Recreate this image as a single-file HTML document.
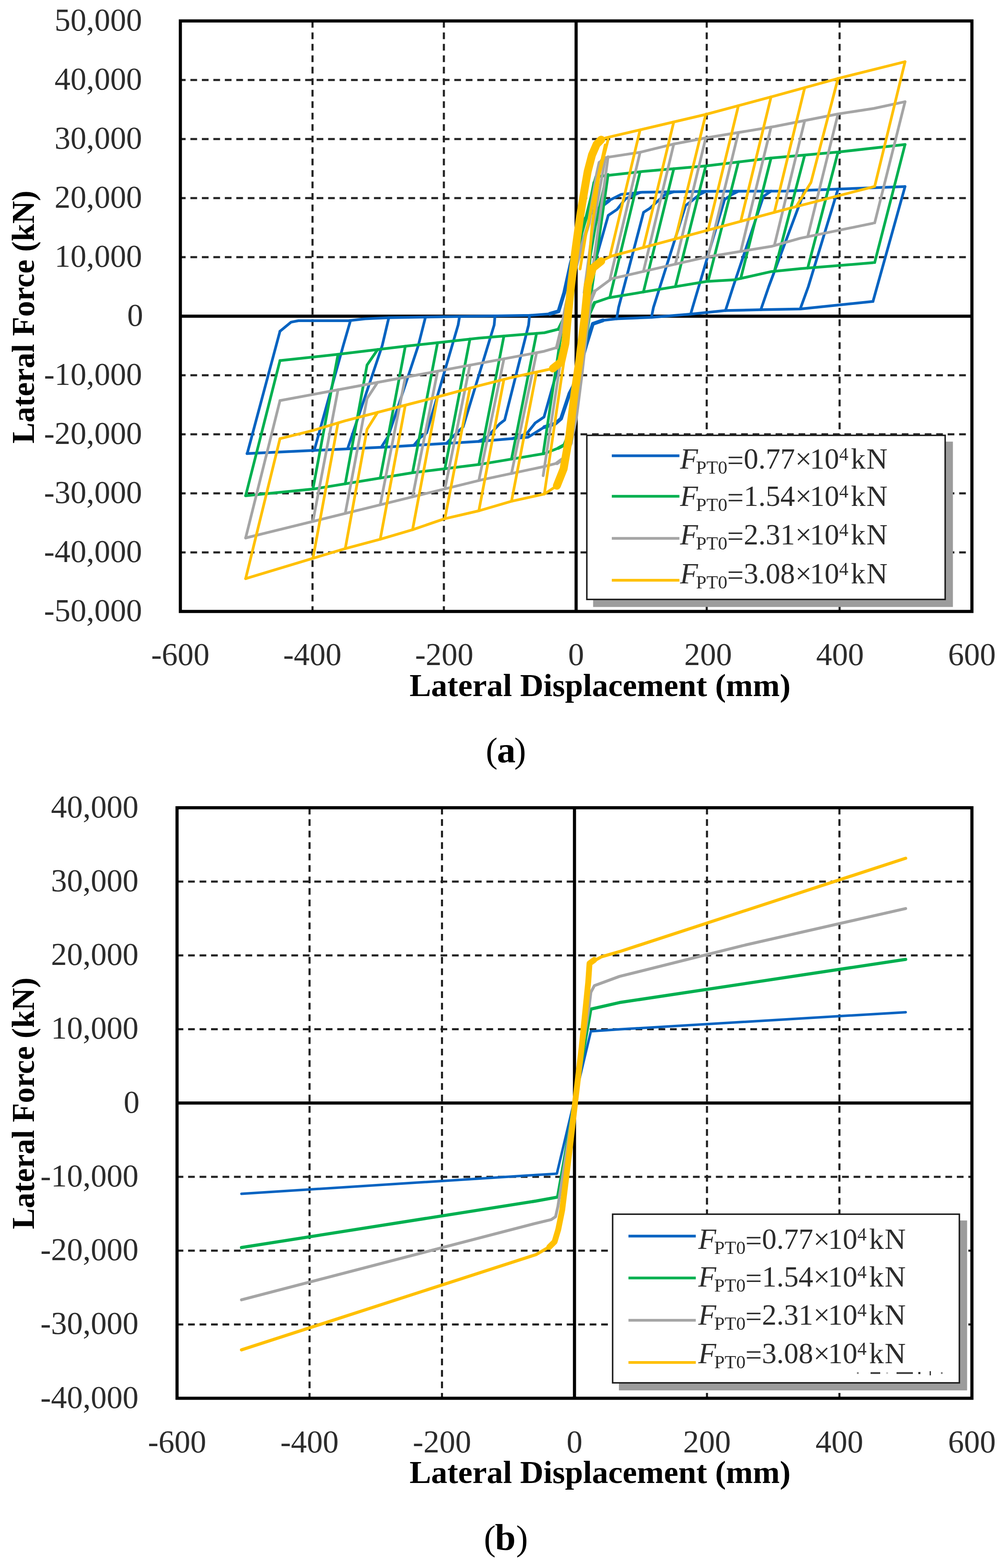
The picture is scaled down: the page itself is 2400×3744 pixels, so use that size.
<!DOCTYPE html>
<html><head><meta charset="utf-8"><title>Lateral force vs displacement</title><style>
html,body{margin:0;padding:0;background:#fff;}
svg{display:block;}
.tk{font-family:"Liberation Serif",serif;font-size:76px;fill:#2c2c2c;}
.tt{font-family:"Liberation Serif",serif;font-size:77px;font-weight:bold;fill:#000;}
.lg{font-family:"Liberation Serif",serif;font-size:70px;fill:#2c2c2c;}
.lg .sub{font-size:45px;}
.lg .sup{font-size:44px;}
.cap{font-family:"Liberation Serif",serif;font-size:89px;fill:#000;}
</style></head><body>
<svg width="2400" height="3744" viewBox="0 0 2400 3744">
<rect width="100%" height="100%" fill="#fff"/>
<path d="M430.7 191H2321M430.7 332H2321M430.7 473H2321M430.7 614H2321M430.7 896H2321M430.7 1037H2321M430.7 1178H2321M430.7 1319H2321" stroke="#222" stroke-width="5" stroke-dasharray="16 11.4" stroke-dashoffset="3.4" fill="none"/>
<path d="M746.3 50V1460M1060 50V1460M1687.7 50V1460M2005 50V1460" stroke="#222" stroke-width="5" stroke-dasharray="16 11.4" stroke-dashoffset="0" fill="none"/>
<path d="M430.7 755H2321 M1375.8 50V1460" stroke="#000" stroke-width="7.5" fill="none"/>
<path d="M2084.7 719.8 L1911.4 737.7 L1816.9 739.5 L1731.9 741.6 L1649.9 750.1 L1555.4 757.8 L1471.9 761.3 L1439.8 764.9 L1415.7 773.3 L1399.5 825.5 L1383.7 881.9 L1368 924.2 L1359.8 939.9 L1339.8 999.6 L1325.9 1011.6 L1299.9 1019.7 L1260.9 1044 L1144.3 1053.9 L931.6 1066.9 L589.8 1083" stroke="#0563C1" stroke-width="6.5" fill="none" stroke-linejoin="round" stroke-linecap="round"/>
<path d="M668.6 791 L695.3 769.1 L712.7 765.7 L832.4 765.7 L871.8 761.3 L930.1 758.5 L1139.6 755 L1265.6 753 L1312.8 749.4 L1333.8 743.4 L1347.5 698.6 L1363.2 628.1 L1379 571.7 L1391.6 529.4 L1407.4 511.1 L1431 496.8 L1454.6 478.6 L1483 464.3 L1533.4 458.9 L1699.9 456.8 L1876 456.2 L2002.2 451.4 L2161 445.5" stroke="#0563C1" stroke-width="6.5" fill="none" stroke-linejoin="round" stroke-linecap="round"/>
<path d="M1439.8 764.9 L1415.7 773.3 L1399.5 825.5 L1383.7 881.9 L1368 924.2 L1359.8 939.9 L1339.8 999.6 L1325.9 1011.6 L1299.9 1019.7" stroke="#0563C1" stroke-width="9" fill="none" stroke-linejoin="round" stroke-linecap="round"/>
<path d="M1312.8 749.4 L1333.8 743.4 L1347.5 698.6 L1363.2 628.1 L1379 571.7 L1391.6 529.4 L1407.4 511.1 L1431 496.8 L1454.6 478.6" stroke="#0563C1" stroke-width="9" fill="none" stroke-linejoin="round" stroke-linecap="round"/>
<path d="M1528.6 459.4 L1494 474.4 L1473.5 500.1 L1452.6 514.2 L1415.2 646 L1399.5 712.7" stroke="#0563C1" stroke-width="6.5" fill="none" stroke-linejoin="round" stroke-linecap="round"/>
<path d="M1223.1 1047.3 L1257.7 1035.6 L1278.2 1009.9 L1299.1 995.8 L1336.5 864 L1352.2 797.3" stroke="#0563C1" stroke-width="6.5" fill="none" stroke-linejoin="round" stroke-linecap="round"/>
<path d="M1609 457.9 L1587.6 465 L1571.8 479.1 L1551.3 497.8 L1536.8 507.1 L1477.3 733.9 L1472.6 761.3" stroke="#0563C1" stroke-width="6.5" fill="none" stroke-linejoin="round" stroke-linecap="round"/>
<path d="M1142.7 1054 L1161.7 1045 L1175.1 1030.9 L1193.1 1012.2 L1205.2 1002.9 L1262.3 776.1 L1264.6 753" stroke="#0563C1" stroke-width="6.5" fill="none" stroke-linejoin="round" stroke-linecap="round"/>
<path d="M1685.4 457 L1670.4 464.5 L1653.1 478.6 L1637.3 490.8 L1560.5 733.9 L1555.7 757.8" stroke="#0563C1" stroke-width="6.5" fill="none" stroke-linejoin="round" stroke-linecap="round"/>
<path d="M1066.3 1058.7 L1078.5 1045.5 L1093.1 1031.4 L1106 1019.2 L1180.1 776.1 L1182.1 754.3" stroke="#0563C1" stroke-width="6.5" fill="none" stroke-linejoin="round" stroke-linecap="round"/>
<path d="M1763.4 456.6 L1747.6 464.5 L1730.3 476.7 L1654 733.9 L1649.3 750.1" stroke="#0563C1" stroke-width="6.5" fill="none" stroke-linejoin="round" stroke-linecap="round"/>
<path d="M988.3 1063.4 L1002.9 1045.5 L1019 1033.3 L1094 776.1 L1097.5 755.7" stroke="#0563C1" stroke-width="6.5" fill="none" stroke-linejoin="round" stroke-linecap="round"/>
<path d="M1841.3 456.3 L1823.2 468.8 L1750.8 684.5 L1732.5 741.6" stroke="#0563C1" stroke-width="6.5" fill="none" stroke-linejoin="round" stroke-linecap="round"/>
<path d="M910.4 1067.9 L927.4 1041.2 L998.8 825.5 L1016.1 757.1" stroke="#0563C1" stroke-width="6.5" fill="none" stroke-linejoin="round" stroke-linecap="round"/>
<path d="M1921.7 454.5 L1835.8 684.5 L1816.9 739.5" stroke="#0563C1" stroke-width="6.5" fill="none" stroke-linejoin="round" stroke-linecap="round"/>
<path d="M830 1071.7 L912.7 825.5 L928.5 758.6" stroke="#0563C1" stroke-width="6.5" fill="none" stroke-linejoin="round" stroke-linecap="round"/>
<path d="M2001.2 451.5 L1930.3 684.5 L1911 737.7" stroke="#0563C1" stroke-width="6.5" fill="none" stroke-linejoin="round" stroke-linecap="round"/>
<path d="M750.5 1075.4 L819.6 825.5 L837.1 765.2" stroke="#0563C1" stroke-width="6.5" fill="none" stroke-linejoin="round" stroke-linecap="round"/>
<path d="M2161.3 445.5 L2084.7 719.8" stroke="#0563C1" stroke-width="6.5" fill="none" stroke-linejoin="round" stroke-linecap="round"/>
<path d="M590.4 1082.9 L668.6 791" stroke="#0563C1" stroke-width="6.5" fill="none" stroke-linejoin="round" stroke-linecap="round"/>
<path d="M2084.7 627.3 L1911 641.6 L1842.1 648.4 L1755.5 667.9 L1687.6 672 L1453.7 711 L1419.8 722.6 L1407.8 749.5 L1394.8 839.6 L1379 938.3 L1363.2 1022.9 L1347.5 1062.4 L1333.8 1069.7 L1300.2 1083 L1144.3 1109.1 L985.2 1128.7 L748.9 1167.6 L586.6 1183.8" stroke="#00B050" stroke-width="6.5" fill="none" stroke-linejoin="round" stroke-linecap="round"/>
<path d="M668.6 861 L807.2 846.1 L969.4 826.6 L1144.3 807.2 L1300.2 794.5 L1333.8 786 L1349.1 755 L1359.8 699.6 L1375.8 619.6 L1388.5 557.6 L1399.5 520.8 L1405.9 494.9 L1412.4 468.8 L1418.9 436.3 L1422.8 422 L1533.4 409.6 L1687.6 396 L1839.9 377.5 L2002 363 L2161.3 345" stroke="#00B050" stroke-width="6.5" fill="none" stroke-linejoin="round" stroke-linecap="round"/>
<path d="M1419.8 722.6 L1407.8 749.5 L1394.8 839.6 L1379 938.3 L1363.2 1022.9 L1347.5 1062.4 L1333.8 1069.7" stroke="#00B050" stroke-width="8" fill="none" stroke-linejoin="round" stroke-linecap="round"/>
<path d="M1333.8 786 L1349.1 755 L1359.8 699.6 L1375.8 619.6 L1388.5 557.6 L1399.5 520.8 L1405.9 494.9 L1412.4 468.8 L1418.9 436.3" stroke="#00B050" stroke-width="8" fill="none" stroke-linejoin="round" stroke-linecap="round"/>
<path d="M1452.2 416.6 L1404.2 755" stroke="#00B050" stroke-width="6.5" fill="none" stroke-linejoin="round" stroke-linecap="round"/>
<path d="M1448.3 419.4 L1421.8 540 L1409.9 610.1 L1399.5 726.8" stroke="#00B050" stroke-width="6.5" fill="none" stroke-linejoin="round" stroke-linecap="round"/>
<path d="M1297.1 1083.5 L1344.3 769.1" stroke="#00B050" stroke-width="6.5" fill="none" stroke-linejoin="round" stroke-linecap="round"/>
<path d="M1528.6 410.1 L1456.2 710.6" stroke="#00B050" stroke-width="6.5" fill="none" stroke-linejoin="round" stroke-linecap="round"/>
<path d="M1609 402.9 L1536.5 697.2" stroke="#00B050" stroke-width="6.5" fill="none" stroke-linejoin="round" stroke-linecap="round"/>
<path d="M1685.4 396.2 L1612.9 684.4" stroke="#00B050" stroke-width="6.5" fill="none" stroke-linejoin="round" stroke-linecap="round"/>
<path d="M1763.4 386.8 L1690.9 671.8" stroke="#00B050" stroke-width="6.5" fill="none" stroke-linejoin="round" stroke-linecap="round"/>
<path d="M1841.3 377.4 L1768.9 664.9" stroke="#00B050" stroke-width="6.5" fill="none" stroke-linejoin="round" stroke-linecap="round"/>
<path d="M1921.7 370.2 L1849.2 647.7" stroke="#00B050" stroke-width="6.5" fill="none" stroke-linejoin="round" stroke-linecap="round"/>
<path d="M2001.2 363.1 L1928.8 640.2" stroke="#00B050" stroke-width="6.5" fill="none" stroke-linejoin="round" stroke-linecap="round"/>
<path d="M2161.3 345 L2088.8 626.9" stroke="#00B050" stroke-width="6.5" fill="none" stroke-linejoin="round" stroke-linecap="round"/>
<path d="M1221.5 1096.1 L1281.3 796" stroke="#00B050" stroke-width="6.5" fill="none" stroke-linejoin="round" stroke-linecap="round"/>
<path d="M1143.5 1109.1 L1203.4 802.4" stroke="#00B050" stroke-width="6.5" fill="none" stroke-linejoin="round" stroke-linecap="round"/>
<path d="M1062.4 1119.1 L1122.2 809.6" stroke="#00B050" stroke-width="6.5" fill="none" stroke-linejoin="round" stroke-linecap="round"/>
<path d="M985.2 1128.7 L1045 818.2" stroke="#00B050" stroke-width="6.5" fill="none" stroke-linejoin="round" stroke-linecap="round"/>
<path d="M908 1141.4 L967.9 826.8" stroke="#00B050" stroke-width="6.5" fill="none" stroke-linejoin="round" stroke-linecap="round"/>
<path d="M824.5 1155.1 L876.5 871.6 L901.7 834.8" stroke="#00B050" stroke-width="6.5" fill="none" stroke-linejoin="round" stroke-linecap="round"/>
<path d="M747.3 1167.7 L807.2 846.1" stroke="#00B050" stroke-width="6.5" fill="none" stroke-linejoin="round" stroke-linecap="round"/>
<path d="M586.6 1183.8 L668.6 861" stroke="#00B050" stroke-width="6.5" fill="none" stroke-linejoin="round" stroke-linecap="round"/>
<path d="M2084.7 533.1 L1911 568.9 L1842.1 588.3 L1752.3 603 L1687.6 613.6 L1460.3 665.6 L1419.8 695.6 L1409.9 719.6 L1399.5 797.3 L1388.5 896 L1375.8 994.7 L1363.2 1058.2 L1347.5 1093.4 L1329.9 1106.1 L1296.8 1114.5 L1150.6 1145.6 L586.6 1284.5" stroke="#A5A5A5" stroke-width="6.5" fill="none" stroke-linejoin="round" stroke-linecap="round"/>
<path d="M668.6 956.5 L1297.1 839.3 L1329.9 829.9 L1341.2 783.2 L1353.8 719.8 L1368 663.4 L1383.7 607 L1394.8 568.9 L1405.9 533.8 L1412.4 494.9 L1419 455.8 L1425.5 416.9 L1431.8 388.4 L1440.4 377.1 L1528.5 363.6 L1609.8 343.7 L1684.3 329.5 L1849.8 302 L2002 272 L2086.3 259 L2161.3 242.9" stroke="#A5A5A5" stroke-width="6.5" fill="none" stroke-linejoin="round" stroke-linecap="round"/>
<path d="M1419.8 695.6 L1409.9 719.6 L1399.5 797.3 L1388.5 896 L1375.8 994.7 L1363.2 1058.2 L1347.5 1093.4 L1329.9 1106.1" stroke="#A5A5A5" stroke-width="9" fill="none" stroke-linejoin="round" stroke-linecap="round"/>
<path d="M1329.9 829.9 L1341.2 783.2 L1353.8 719.8 L1368 663.4 L1383.7 607 L1394.8 568.9 L1405.9 533.8 L1412.4 494.9 L1419 455.8 L1425.5 416.9 L1431.8 388.4" stroke="#A5A5A5" stroke-width="9" fill="none" stroke-linejoin="round" stroke-linecap="round"/>
<path d="M1452.2 374.3 L1402.6 733.9" stroke="#A5A5A5" stroke-width="6.5" fill="none" stroke-linejoin="round" stroke-linecap="round"/>
<path d="M1445.2 378.5 L1413.7 557.6 L1394.8 698.6" stroke="#A5A5A5" stroke-width="6.5" fill="none" stroke-linejoin="round" stroke-linecap="round"/>
<path d="M1297.1 1135.7 L1344.3 825.5" stroke="#A5A5A5" stroke-width="6.5" fill="none" stroke-linejoin="round" stroke-linecap="round"/>
<path d="M1528.6 363.5 L1456.2 668.6" stroke="#A5A5A5" stroke-width="6.5" fill="none" stroke-linejoin="round" stroke-linecap="round"/>
<path d="M1609 343.9 L1536.5 648.2" stroke="#A5A5A5" stroke-width="6.5" fill="none" stroke-linejoin="round" stroke-linecap="round"/>
<path d="M1685.4 329.3 L1612.9 630.7" stroke="#A5A5A5" stroke-width="6.5" fill="none" stroke-linejoin="round" stroke-linecap="round"/>
<path d="M1763.4 316.3 L1690.9 613" stroke="#A5A5A5" stroke-width="6.5" fill="none" stroke-linejoin="round" stroke-linecap="round"/>
<path d="M1841.3 303.4 L1768.9 600.3" stroke="#A5A5A5" stroke-width="6.5" fill="none" stroke-linejoin="round" stroke-linecap="round"/>
<path d="M1921.7 287.8 L1849.2 586.3" stroke="#A5A5A5" stroke-width="6.5" fill="none" stroke-linejoin="round" stroke-linecap="round"/>
<path d="M2001.2 272.2 L1928.8 565.2" stroke="#A5A5A5" stroke-width="6.5" fill="none" stroke-linejoin="round" stroke-linecap="round"/>
<path d="M2161.3 242.9 L2088.8 532.2" stroke="#A5A5A5" stroke-width="6.5" fill="none" stroke-linejoin="round" stroke-linecap="round"/>
<path d="M1221.5 1130.5 L1281.3 842.3" stroke="#A5A5A5" stroke-width="6.5" fill="none" stroke-linejoin="round" stroke-linecap="round"/>
<path d="M1143.5 1147.3 L1203.4 856.8" stroke="#A5A5A5" stroke-width="6.5" fill="none" stroke-linejoin="round" stroke-linecap="round"/>
<path d="M1062.4 1167.3 L1122.2 871.9" stroke="#A5A5A5" stroke-width="6.5" fill="none" stroke-linejoin="round" stroke-linecap="round"/>
<path d="M985.2 1186.3 L1045 886.3" stroke="#A5A5A5" stroke-width="6.5" fill="none" stroke-linejoin="round" stroke-linecap="round"/>
<path d="M908 1205.3 L967.9 900.7" stroke="#A5A5A5" stroke-width="6.5" fill="none" stroke-linejoin="round" stroke-linecap="round"/>
<path d="M824.5 1225.9 L876.5 951.6 L901.7 913" stroke="#A5A5A5" stroke-width="6.5" fill="none" stroke-linejoin="round" stroke-linecap="round"/>
<path d="M747.3 1244.9 L807.2 930.6" stroke="#A5A5A5" stroke-width="6.5" fill="none" stroke-linejoin="round" stroke-linecap="round"/>
<path d="M586.6 1284.5 L668.6 956.5" stroke="#A5A5A5" stroke-width="6.5" fill="none" stroke-linejoin="round" stroke-linecap="round"/>
<path d="M2086.3 445.8 L1876 499.9 L1694.1 548.7 L1458.7 612 L1435.7 623.7 L1415.9 639.7 L1403.9 679.6 L1395.9 759.5 L1383.7 859.9 L1371.9 939.9 L1359.8 1039.7 L1345.9 1119.6 L1329.9 1159.7 L1299.9 1179.6 L1221.5 1196.8 L1144.3 1219.5 L1060.8 1238.9 L985.2 1264.9 L908 1287.7 L822.9 1310.4 L747.3 1333.1 L586.6 1381.7" stroke="#FFC000" stroke-width="6.5" fill="none" stroke-linejoin="round" stroke-linecap="round"/>
<path d="M668.6 1047.4 L747.3 1027.8 L822.9 1005.1 L985.2 963 L1060.8 943.5 L1144.3 920.8 L1221.5 901.4 L1297.1 885 L1320.2 879.9 L1340.2 863.9 L1350.2 819.9 L1356.2 755 L1363.9 679.6 L1373.8 599.8 L1384.5 522.4 L1394.8 458.9 L1403.4 409.6 L1413.7 370.1 L1424.7 344.7 L1435.7 333.4 L1446.7 329.2 L1684.3 273.5 L1849.7 229.1 L2006 186.1 L2161.3 147.3" stroke="#FFC000" stroke-width="6.5" fill="none" stroke-linejoin="round" stroke-linecap="round"/>
<path d="M1435.7 623.7 L1415.9 639.7 L1403.9 679.6 L1395.9 759.5 L1383.7 859.9 L1371.9 939.9 L1359.8 1039.7 L1345.9 1119.6 L1329.9 1159.7" stroke="#FFC000" stroke-width="19" fill="none" stroke-linejoin="round" stroke-linecap="round"/>
<path d="M1320.2 879.9 L1340.2 863.9 L1350.2 819.9 L1356.2 755 L1363.9 679.6 L1373.8 599.8 L1384.5 522.4 L1394.8 458.9 L1403.4 409.6 L1413.7 370.1 L1424.7 344.7 L1435.7 333.4" stroke="#FFC000" stroke-width="19" fill="none" stroke-linejoin="round" stroke-linecap="round"/>
<path d="M1452.2 333.4 L1431 416.6 L1413.7 540 L1408 610.1 L1400 689.9 L1396.3 726.8" stroke="#FFC000" stroke-width="6.5" fill="none" stroke-linejoin="round" stroke-linecap="round"/>
<path d="M1445.2 346.1 L1423.1 444.8 L1399.5 557.6 L1385.3 642.2" stroke="#FFC000" stroke-width="6.5" fill="none" stroke-linejoin="round" stroke-linecap="round"/>
<path d="M1299.9 1179.6 L1345.9 867.8" stroke="#FFC000" stroke-width="6.5" fill="none" stroke-linejoin="round" stroke-linecap="round"/>
<path d="M1528.6 310 L1456.2 613.3" stroke="#FFC000" stroke-width="6.5" fill="none" stroke-linejoin="round" stroke-linecap="round"/>
<path d="M1609 291.1 L1536.5 591.1" stroke="#FFC000" stroke-width="6.5" fill="none" stroke-linejoin="round" stroke-linecap="round"/>
<path d="M1685.4 273.2 L1612.9 570.5" stroke="#FFC000" stroke-width="6.5" fill="none" stroke-linejoin="round" stroke-linecap="round"/>
<path d="M1763.4 252.3 L1690.9 549.6" stroke="#FFC000" stroke-width="6.5" fill="none" stroke-linejoin="round" stroke-linecap="round"/>
<path d="M1841.3 231.3 L1768.9 528.7" stroke="#FFC000" stroke-width="6.5" fill="none" stroke-linejoin="round" stroke-linecap="round"/>
<path d="M1921.7 209.3 L1849.2 507.1" stroke="#FFC000" stroke-width="6.5" fill="none" stroke-linejoin="round" stroke-linecap="round"/>
<path d="M2001.2 187.4 L1936.6 435.7 L1901.2 493.4" stroke="#FFC000" stroke-width="6.5" fill="none" stroke-linejoin="round" stroke-linecap="round"/>
<path d="M2161.3 147.3 L2088.8 445.1" stroke="#FFC000" stroke-width="6.5" fill="none" stroke-linejoin="round" stroke-linecap="round"/>
<path d="M1221.5 1196.8 L1281.3 888.4" stroke="#FFC000" stroke-width="6.5" fill="none" stroke-linejoin="round" stroke-linecap="round"/>
<path d="M1143.5 1219.6 L1203.4 905.9" stroke="#FFC000" stroke-width="6.5" fill="none" stroke-linejoin="round" stroke-linecap="round"/>
<path d="M1062.4 1238.5 L1122.2 926.8" stroke="#FFC000" stroke-width="6.5" fill="none" stroke-linejoin="round" stroke-linecap="round"/>
<path d="M985.2 1264.9 L1045 947.6" stroke="#FFC000" stroke-width="6.5" fill="none" stroke-linejoin="round" stroke-linecap="round"/>
<path d="M908 1287.7 L967.9 967.5" stroke="#FFC000" stroke-width="6.5" fill="none" stroke-linejoin="round" stroke-linecap="round"/>
<path d="M824.5 1310 L876.5 1025.1 L901.7 984.7" stroke="#FFC000" stroke-width="6.5" fill="none" stroke-linejoin="round" stroke-linecap="round"/>
<path d="M747.3 1333.1 L807.2 1009.9" stroke="#FFC000" stroke-width="6.5" fill="none" stroke-linejoin="round" stroke-linecap="round"/>
<path d="M586.6 1381.7 L668.6 1047.4" stroke="#FFC000" stroke-width="6.5" fill="none" stroke-linejoin="round" stroke-linecap="round"/>
<rect x="430.7" y="50" width="1890.3" height="1410" fill="none" stroke="#000" stroke-width="7.5"/>
<text x="339.3" y="73" class="tk" text-anchor="end">50,000</text>
<text x="339.3" y="214" class="tk" text-anchor="end">40,000</text>
<text x="339.3" y="355" class="tk" text-anchor="end">30,000</text>
<text x="339.3" y="496" class="tk" text-anchor="end">20,000</text>
<text x="339.3" y="637" class="tk" text-anchor="end">10,000</text>
<text x="341.8" y="778" class="tk" text-anchor="end">0</text>
<text x="339.3" y="919" class="tk" text-anchor="end">-10,000</text>
<text x="339.3" y="1060" class="tk" text-anchor="end">-20,000</text>
<text x="339.3" y="1201" class="tk" text-anchor="end">-30,000</text>
<text x="339.3" y="1342" class="tk" text-anchor="end">-40,000</text>
<text x="339.3" y="1483" class="tk" text-anchor="end">-50,000</text>
<text x="430.7" y="1587.7" class="tk" text-anchor="middle">-600</text>
<text x="745.8" y="1587.7" class="tk" text-anchor="middle">-400</text>
<text x="1060.8" y="1587.7" class="tk" text-anchor="middle">-200</text>
<text x="1375.8" y="1587.7" class="tk" text-anchor="middle">0</text>
<text x="1690.9" y="1587.7" class="tk" text-anchor="middle">200</text>
<text x="2006" y="1587.7" class="tk" text-anchor="middle">400</text>
<text x="2321" y="1587.7" class="tk" text-anchor="middle">600</text>
<text x="978" y="1661.7" class="tt" textLength="910" lengthAdjust="spacingAndGlyphs">Lateral Displacement (mm)</text>
<text transform="translate(80.5 1059) rotate(-90)" class="tt" textLength="604" lengthAdjust="spacingAndGlyphs">Lateral Force (kN)</text>
<rect x="1416.4" y="1054.5" width="859.2" height="394.8" fill="#9c9c9c"/>
<rect x="1401.4" y="1039.5" width="855.7" height="391.8" fill="#fff" stroke="#1a1a1a" stroke-width="3.5"/>
<path d="M1461 1088.2H1622.5" stroke="#0563C1" stroke-width="6.5" fill="none"/>
<text y="1119.1" class="lg"><tspan x="1624" font-style="italic">F</tspan><tspan x="1662" y="1131.1" class="sub">PT0</tspan><tspan x="1736.5" y="1123.1">=</tspan><tspan x="1776" y="1119.1">0.77</tspan><tspan x="1899">×</tspan><tspan x="1934">10</tspan><tspan x="2004" y="1099.1" class="sup">4</tspan><tspan x="2032" y="1119.1">k</tspan><tspan x="2069">N</tspan></text>
<path d="M1461 1185.1H1622.5" stroke="#00B050" stroke-width="6.5" fill="none"/>
<text y="1208" class="lg"><tspan x="1624" font-style="italic">F</tspan><tspan x="1662" y="1220" class="sub">PT0</tspan><tspan x="1736.5" y="1212">=</tspan><tspan x="1776" y="1208">1.54</tspan><tspan x="1899">×</tspan><tspan x="1934">10</tspan><tspan x="2004" y="1188" class="sup">4</tspan><tspan x="2032" y="1208">k</tspan><tspan x="2069">N</tspan></text>
<path d="M1461 1285.5H1622.5" stroke="#A5A5A5" stroke-width="6.5" fill="none"/>
<text y="1300.2" class="lg"><tspan x="1624" font-style="italic">F</tspan><tspan x="1662" y="1312.2" class="sub">PT0</tspan><tspan x="1736.5" y="1304.2">=</tspan><tspan x="1776" y="1300.2">2.31</tspan><tspan x="1899">×</tspan><tspan x="1934">10</tspan><tspan x="2004" y="1280.2" class="sup">4</tspan><tspan x="2032" y="1300.2">k</tspan><tspan x="2069">N</tspan></text>
<path d="M1461 1385.4H1622.5" stroke="#FFC000" stroke-width="6.5" fill="none"/>
<text y="1392.8" class="lg"><tspan x="1624" font-style="italic">F</tspan><tspan x="1662" y="1404.8" class="sub">PT0</tspan><tspan x="1736.5" y="1396.8">=</tspan><tspan x="1776" y="1392.8">3.08</tspan><tspan x="1899">×</tspan><tspan x="1934">10</tspan><tspan x="2004" y="1372.8" class="sup">4</tspan><tspan x="2032" y="1392.8">k</tspan><tspan x="2069">N</tspan></text>
<text y="1820" class="cap"><tspan x="1160" font-size="85">(</tspan><tspan x="1186.7" font-weight="bold">a</tspan><tspan x="1228" font-size="85">)</tspan></text>
<path d="M422.8 2104.9H2321M422.8 2281.2H2321M422.8 2457.4H2321M422.8 2809.9H2321M422.8 2986.2H2321M422.8 3162.4H2321" stroke="#222" stroke-width="5" stroke-dasharray="16 11.4" stroke-dashoffset="1" fill="none"/>
<path d="M739.2 1928.7V3338.7M1055.5 1928.7V3338.7M1688.3 1928.7V3338.7M2004.6 1928.7V3338.7" stroke="#222" stroke-width="5" stroke-dasharray="16 11.4" stroke-dashoffset="0" fill="none"/>
<path d="M422.8 2633.7H2321 M1371.9 1928.7V3338.7" stroke="#000" stroke-width="7.5" fill="none"/>
<path d="M576.7 2850.5 L1280 2805.5 L1329.8 2802.4 L1411 2462.6 L1479.5 2457.8 L2162.8 2416.9" stroke="#0563C1" stroke-width="6" fill="none" stroke-linejoin="round" stroke-linecap="round"/>
<path d="M576.7 2978.8 L1280 2867.8 L1331.6 2858.4 L1411 2409.5 L1479.5 2393.8 L2162.8 2290.7" stroke="#00B050" stroke-width="7.5" fill="none" stroke-linejoin="round" stroke-linecap="round"/>
<path d="M576.7 3103.6 L1280 2920.8 L1316.5 2912.2 L1326.8 2905.1 L1332.4 2880.4 L1406.7 2404.6 L1411 2369.3 L1419.4 2353.5 L1479.5 2331.4 L1772.1 2258.3 L2162.8 2169.3" stroke="#A5A5A5" stroke-width="7" fill="none" stroke-linejoin="round" stroke-linecap="round"/>
<path d="M576.7 3223.1 L1280 2995.7 L1317.3 2973.9 L1333 2936.3 L1342.5 2889.6 L1358 2764.8 L1373.6 2630.9 L1389.1 2499.9 L1404.8 2343.9 L1407.8 2300.4 L1436 2284.7 L1479.5 2272.2 L2162.8 2049.3" stroke="#FFC000" stroke-width="7.5" fill="none" stroke-linejoin="round" stroke-linecap="round"/>
<path d="M1311.8 2977.4 L1324.4 2965.1 L1333 2936.3 L1342.5 2889.6 L1358 2764.8 L1373.6 2630.9 L1389.1 2499.9 L1404.8 2343.9 L1407.8 2300.4 L1419.4 2291.8" stroke="#FFC000" stroke-width="14" fill="none" stroke-linejoin="round" stroke-linecap="round"/>
<rect x="422.8" y="1928.7" width="1898.2" height="1410" fill="none" stroke="#000" stroke-width="7.5"/>
<text x="330.8" y="1951.7" class="tk" text-anchor="end">40,000</text>
<text x="330.8" y="2127.9" class="tk" text-anchor="end">30,000</text>
<text x="330.8" y="2304.2" class="tk" text-anchor="end">20,000</text>
<text x="330.8" y="2480.4" class="tk" text-anchor="end">10,000</text>
<text x="333.3" y="2656.7" class="tk" text-anchor="end">0</text>
<text x="330.8" y="2832.9" class="tk" text-anchor="end">-10,000</text>
<text x="330.8" y="3009.2" class="tk" text-anchor="end">-20,000</text>
<text x="330.8" y="3185.4" class="tk" text-anchor="end">-30,000</text>
<text x="330.8" y="3361.7" class="tk" text-anchor="end">-40,000</text>
<text x="422.8" y="3468" class="tk" text-anchor="middle">-600</text>
<text x="739.2" y="3468" class="tk" text-anchor="middle">-400</text>
<text x="1055.5" y="3468" class="tk" text-anchor="middle">-200</text>
<text x="1371.9" y="3468" class="tk" text-anchor="middle">0</text>
<text x="1688.3" y="3468" class="tk" text-anchor="middle">200</text>
<text x="2004.6" y="3468" class="tk" text-anchor="middle">400</text>
<text x="2321" y="3468" class="tk" text-anchor="middle">600</text>
<text x="978" y="3541" class="tt" textLength="910" lengthAdjust="spacingAndGlyphs">Lateral Displacement (mm)</text>
<text transform="translate(81 2935) rotate(-90)" class="tt" textLength="601" lengthAdjust="spacingAndGlyphs">Lateral Force (kN)</text>
<rect x="1478" y="2914.2" width="831.5" height="405.7" fill="#9c9c9c"/>
<rect x="1463" y="2899.2" width="828" height="402.7" fill="#fff" stroke="#1a1a1a" stroke-width="3.5"/>
<path d="M1500.8 2951.6H1661.6" stroke="#0563C1" stroke-width="6.5" fill="none"/>
<text y="2981.6" class="lg"><tspan x="1667.4" font-style="italic">F</tspan><tspan x="1705.4" y="2993.6" class="sub">PT0</tspan><tspan x="1779.9" y="2985.6">=</tspan><tspan x="1819.4" y="2981.6">0.77</tspan><tspan x="1942.4">×</tspan><tspan x="1977.4">10</tspan><tspan x="2047.4" y="2961.6" class="sup">4</tspan><tspan x="2075.4" y="2981.6">k</tspan><tspan x="2112.4">N</tspan></text>
<path d="M1500.8 3051.6H1661.6" stroke="#00B050" stroke-width="6.5" fill="none"/>
<text y="3071.6" class="lg"><tspan x="1667.4" font-style="italic">F</tspan><tspan x="1705.4" y="3083.6" class="sub">PT0</tspan><tspan x="1779.9" y="3075.6">=</tspan><tspan x="1819.4" y="3071.6">1.54</tspan><tspan x="1942.4">×</tspan><tspan x="1977.4">10</tspan><tspan x="2047.4" y="3051.6" class="sup">4</tspan><tspan x="2075.4" y="3071.6">k</tspan><tspan x="2112.4">N</tspan></text>
<path d="M1500.8 3152.4H1661.6" stroke="#A5A5A5" stroke-width="6.5" fill="none"/>
<text y="3163.2" class="lg"><tspan x="1667.4" font-style="italic">F</tspan><tspan x="1705.4" y="3175.2" class="sub">PT0</tspan><tspan x="1779.9" y="3167.2">=</tspan><tspan x="1819.4" y="3163.2">2.31</tspan><tspan x="1942.4">×</tspan><tspan x="1977.4">10</tspan><tspan x="2047.4" y="3143.2" class="sup">4</tspan><tspan x="2075.4" y="3163.2">k</tspan><tspan x="2112.4">N</tspan></text>
<path d="M1500.8 3253.3H1661.6" stroke="#FFC000" stroke-width="6.5" fill="none"/>
<text y="3254.8" class="lg"><tspan x="1667.4" font-style="italic">F</tspan><tspan x="1705.4" y="3266.8" class="sub">PT0</tspan><tspan x="1779.9" y="3258.8">=</tspan><tspan x="1819.4" y="3254.8">3.08</tspan><tspan x="1942.4">×</tspan><tspan x="1977.4">10</tspan><tspan x="2047.4" y="3234.8" class="sup">4</tspan><tspan x="2075.4" y="3254.8">k</tspan><tspan x="2112.4">N</tspan></text>
<g fill="#333"><rect x="2046.5" y="3276.5" width="4" height="4" fill="#777"/><rect x="2079" y="3276.5" width="23" height="4"/><rect x="2116.5" y="3276.5" width="4" height="4" fill="#bbb"/><rect x="2141" y="3276.5" width="39" height="4"/><rect x="2193" y="3276" width="5" height="5"/><rect x="2220" y="3274" width="3" height="10"/><rect x="2247" y="3276.5" width="4" height="4" fill="#777"/></g>
<text y="3701" class="cap"><tspan x="1155.5" font-size="85">(</tspan><tspan x="1182" font-weight="bold">b</tspan><tspan x="1232.5" font-size="85">)</tspan></text>
</svg>
</body></html>
